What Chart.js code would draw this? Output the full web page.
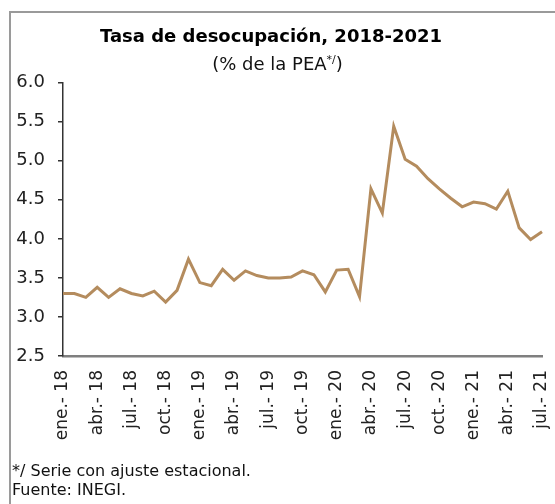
<!DOCTYPE html>
<html>
<head>
<meta charset="utf-8">
<script src="https://cdn.jsdelivr.net/npm/chart.js@4.4.0/dist/chart.umd.min.js"></script>
<style>
  html, body { margin: 0; padding: 0; background: #fff; }
  #wrap { position: relative; width: 555px; height: 504px; overflow: hidden; }
  #frame { position: absolute; left: 9px; top: 11px; width: 600px; height: 600px;
           border-left: 2px solid #9a9a9a; border-top: 2px solid #9a9a9a; }
  #myChart { position: absolute; left: 0; top: 0; }
  .note { position: absolute; left: 12px; font-family: "DejaVu Sans", sans-serif;
          font-size: 16px; line-height: 19px; color: #111; }
</style>
</head>
<body>
<div id="wrap">
  <div id="frame"></div>
  <canvas id="myChart" width="555" height="504"></canvas>
  <div class="note" style="top: 461px;">*/ Serie con ajuste estacional.</div>
  <div class="note" style="top: 480px;">Fuente: INEGI.</div>
</div>
<script>
// meses, ene. 2018 - jul. 2021
const months = ['ene.', 'feb.', 'mar.', 'abr.', 'may.', 'jun.', 'jul.', 'ago.', 'sep.', 'oct.', 'nov.', 'dic.'];
const years = ['18', '19', '20', '21'];
const labels = [];
years.forEach(y => months.forEach(m => labels.push(m + '- ' + y)));
labels.length = 43;

// tasa de desocupacion (% de la PEA)
const tasa = [
    3.30, 3.30, 3.25, 3.38, 3.25, 3.36, 3.30, 3.27, 3.33, 3.19, 3.34, 3.74,
    3.44, 3.40, 3.61, 3.47, 3.59, 3.53, 3.50, 3.50, 3.51, 3.59, 3.54, 3.32,
    3.60, 3.61, 3.26, 4.64, 4.33, 5.44, 5.02, 4.93, 4.77, 4.64, 4.52, 4.41,
    4.47, 4.45, 4.38, 4.61, 4.14, 3.99, 4.09
];

const yMin = 2.5;
const yMax = 6.0;

const font = "'DejaVu Sans', sans-serif";

const subtitlePlugin = {
    id: 'subtitleSup',
    afterDraw: (chart) => {
        const ctx = chart.ctx;
        const main = '(% de la PEA';
        const sup = '*/';
        const end = ')';
        ctx.save();
        ctx.fillStyle = '#111';
        ctx.textBaseline = 'alphabetic';
        ctx.font = '18px ' + font;
        const w1 = ctx.measureText(main).width;
        const w3 = ctx.measureText(end).width;
        ctx.font = '11px ' + font;
        const w2 = ctx.measureText(sup).width;
        const total = w1 + w2 + w3;
        let x = chart.width / 2 - total / 2;
        const y = 70;
        ctx.textAlign = 'left';
        ctx.font = '18px ' + font;
        ctx.fillText(main, x, y);
        x += w1;
        ctx.font = '11px ' + font;
        ctx.fillText(sup, x, y - 7);
        x += w2;
        ctx.font = '18px ' + font;
        ctx.fillText(end, x, y);
        ctx.restore();
    }
};

const ctx = document.getElementById('myChart').getContext('2d');
const myChart = new Chart(ctx, {
    type: 'line',
    data: {
        labels: labels,
        datasets: [{
            label: 'Tasa de desocupación',
            data: tasa,
            borderColor: '#b48c5e',
            borderWidth: 3,
            pointRadius: 0,
            tension: 0,
            fill: false
        }]
    },
    options: {
        responsive: false,
        animation: false,
        devicePixelRatio: 1,
        layout: {
            padding: { left: 0, right: 13, top: 0, bottom: 0 }
        },
        plugins: {
            legend: { display: false },
            tooltip: { enabled: false },
            title: {
                display: true,
                text: 'Tasa de desocupación, 2018-2021',
                color: '#000',
                font: { family: font, size: 18, weight: 'bold' },
                padding: { top: 27, bottom: 34 }
            }
        },
        scales: {
            x: {
                offset: false,
                grid: { display: false },
                border: { display: true, color: '#7f7f7f', width: 2.5 },
                ticks: {
                    autoSkip: false,
                    minRotation: 90,
                    maxRotation: 90,
                    padding: 6,
                    color: '#222',
                    font: { family: font, size: 17 },
                    callback: (v, i) => (i % 3 === 0 ? labels[i] : '')
                },
                afterFit: (scale) => {
                    scale.height = 148;
                    scale.paddingLeft = 0;
                    scale.paddingRight = 0;
                }
            },
            y: {
                min: yMin,
                max: yMax,
                grid: { drawOnChartArea: false, drawTicks: true, tickLength: 5, color: '#333', lineWidth: 1.5 },
                border: { display: true, color: '#333', width: 1.5 },
                ticks: {
                    stepSize: 0.5,
                    padding: 13,
                    color: '#222',
                    font: { family: font, size: 18 },
                    callback: (v) => v.toFixed(1)
                },
                afterFit: (scale) => { scale.width = 63; }
            }
        }
    },
    plugins: [subtitlePlugin]
});
</script>
</body>
</html>
